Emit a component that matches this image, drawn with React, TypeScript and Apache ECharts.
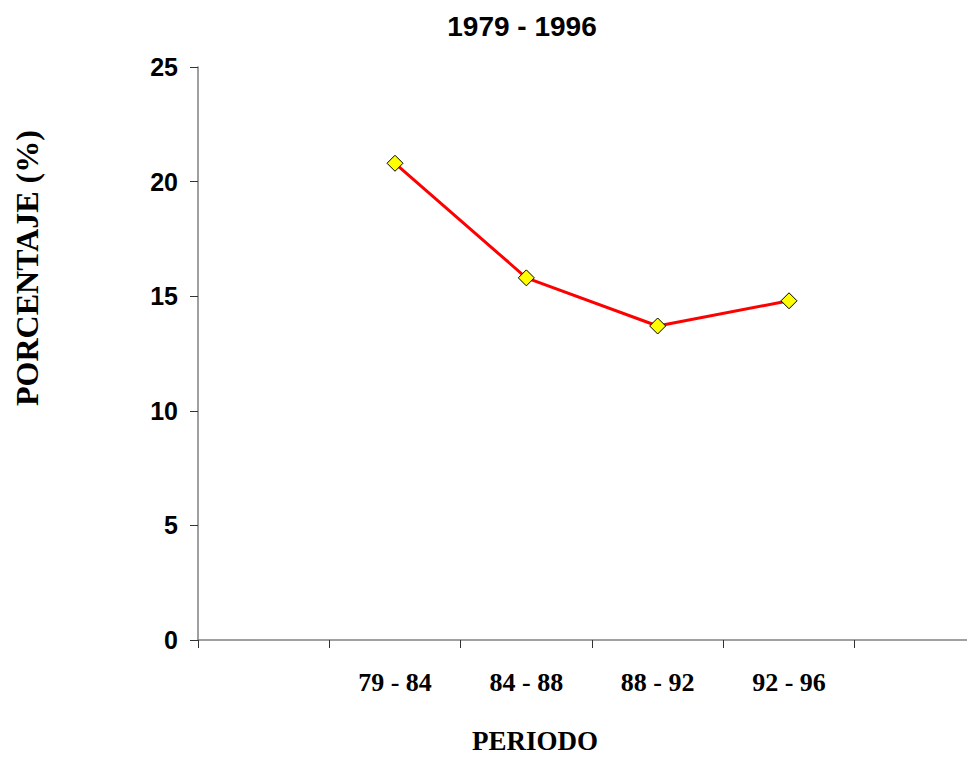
import React, { useEffect, useRef } from "react";
import * as echarts from "echarts";

const categories = ["", "79 - 84", "84 - 88", "88 - 92", "92 - 96", ""];
const values: (number | null)[] = [null, 20.8, 15.8, 13.7, 14.8, null];
const yMin = 0;
const yMax = 25;
const yInterval = 5;
const titleText = "1979 - 1996";
const yTitle = "PORCENTAJE (%)";
const xTitle = "PERIODO";

export default function App() {
  const ref = useRef<HTMLDivElement>(null);
  useEffect(() => {
    if (!ref.current) return;
    const chart = echarts.init(ref.current, undefined, { renderer: "svg" });
    chart.setOption({
      animation: false,
      backgroundColor: "#ffffff",
      grid: { left: 190, top: 59, width: 788, height: 573, containLabel: false },
      xAxis: {
        type: "category",
        data: categories,
        boundaryGap: true,
        axisLine: { lineStyle: { color: "#808080", width: 1.5 } },
        axisTick: { show: true, length: 8, inside: false, lineStyle: { color: "#333333", width: 1 } },
        axisLabel: {
          interval: 0,
          margin: 29,
          color: "#000000",
          fontFamily: "Liberation Serif",
          fontWeight: "bold",
          fontSize: 26,
        },
        splitLine: { show: false },
      },
      yAxis: {
        type: "value",
        min: yMin,
        max: yMax,
        interval: yInterval,
        axisLine: { show: true, lineStyle: { color: "#808080", width: 1.5 } },
        axisTick: { show: true, length: 8, lineStyle: { color: "#333333", width: 1 } },
        axisLabel: {
          margin: 20,
          color: "#000000",
          fontFamily: "Liberation Sans",
          fontWeight: "bold",
          fontSize: 25,
        },
        splitLine: { show: false },
      },
      graphic: [
        {
          type: "text",
          x: 514,
          y: 18,
          style: {
            text: titleText,
            font: "bold 28px 'Liberation Sans'",
            fill: "#000000",
            textAlign: "center",
            textVerticalAlign: "middle",
          },
        },
        {
          type: "text",
          x: 19,
          y: 260,
          rotation: Math.PI / 2,
          style: {
            text: yTitle,
            font: "bold 32px 'Liberation Serif'",
            fill: "#000000",
            textAlign: "center",
            textVerticalAlign: "middle",
          },
        },
        {
          type: "text",
          x: 527,
          y: 733,
          style: {
            text: xTitle,
            font: "bold 27px 'Liberation Serif'",
            fill: "#000000",
            textAlign: "center",
            textVerticalAlign: "middle",
          },
        },
      ],
      series: [
        {
          type: "line",
          data: values,
          connectNulls: false,
          lineStyle: { color: "#ff0000", width: 3 },
          itemStyle: { color: "#ffff00", borderColor: "#000000", borderWidth: 1 },
          symbol: "diamond",
          symbolSize: 16,
          showSymbol: true,
          label: { show: false },
        },
      ],
    });
    return () => chart.dispose();
  }, []);
  return (
    <div style={{ width: 967, height: 750, overflow: "hidden", position: "relative" }}>
      <div ref={ref} style={{ width: 990, height: 750 }} />
    </div>
  );
}
